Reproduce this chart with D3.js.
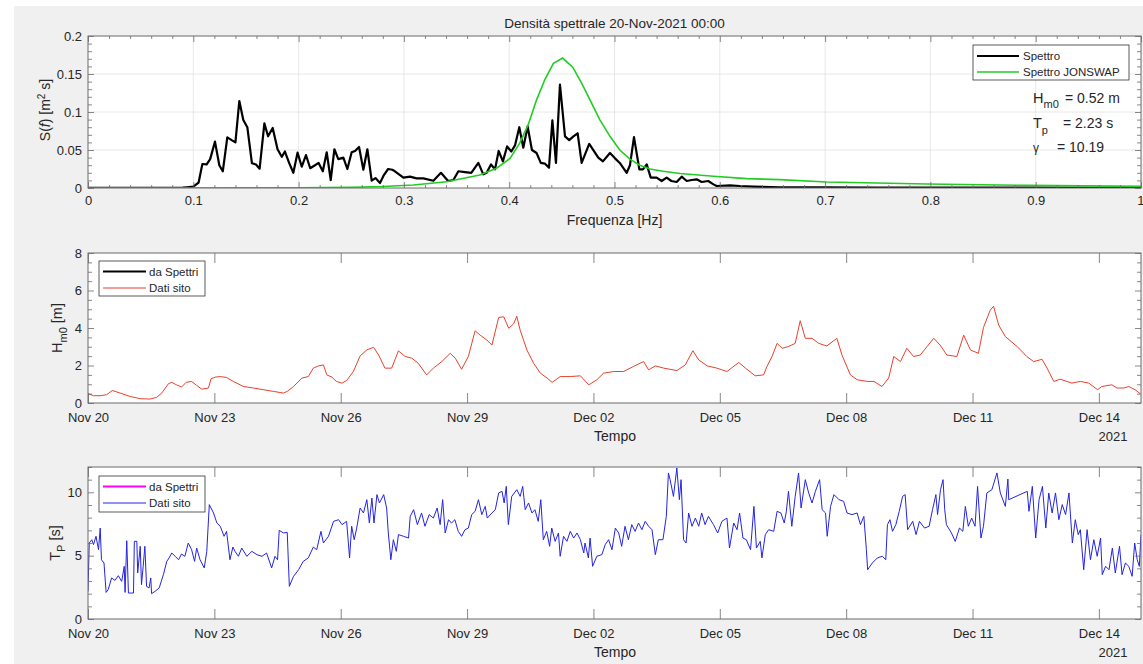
<!DOCTYPE html>
<html><head><meta charset="utf-8">
<script src="https://cdn.jsdelivr.net/npm/d3@7"></script>
<style>
body{margin:0;background:#fff;}
text{font-family:"Liberation Sans",Arial,Helvetica,sans-serif;fill:#262626;}
</style></head><body>
<svg id="c" width="1143" height="664"></svg>
<script>
// ---------- DATA ----------
const freqTicks = [0,0.1,0.2,0.3,0.4,0.5,0.6,0.7,0.8,0.9,1];
const freqTickLabels = ["0","0.1","0.2","0.3","0.4","0.5","0.6","0.7","0.8","0.9","1"];
const specTicks = [0,0.05,0.1,0.15,0.2];
const specTickLabels = ["0","0.05","0.1","0.15","0.2"];
const hmTicks = [0,2,4,6,8];
const tpTicks = [0,5,10];
const dateTickDays = [0,3,6,9,12,15,18,21,24];
const legendTop = ["Spettro","Spettro JONSWAP"];
const legendBottom = ["da Spettri","Dati sito"];
const titleText = "Densità spettrale 20-Nov-2021 00:00";
const hm0Value = "0.52 m", tpValue = "2.23 s", gammaValue = "10.19";

// measured spectrum [f (Hz), S (m^2 s)]
const spectrum = [[0,0.0003],[0.02,0.0003],[0.04,0.0003],[0.06,0.0003],[0.08,0.0003],[0.09,0.0005],[0.094,0.001],[0.1,0.0017],[0.105,0.007],[0.1086,0.0316],[0.1127,0.031],[0.116,0.038],[0.1206,0.061],[0.1247,0.030],[0.128,0.022],[0.1323,0.0667],[0.1364,0.063],[0.14,0.060],[0.1437,0.1145],[0.1475,0.0895],[0.1513,0.080],[0.1557,0.0325],[0.1595,0.031],[0.163,0.0254],[0.1675,0.085],[0.171,0.068],[0.1754,0.079],[0.18,0.051],[0.184,0.041],[0.187,0.048],[0.191,0.033],[0.195,0.020],[0.199,0.0465],[0.203,0.028],[0.207,0.0434],[0.211,0.026],[0.2156,0.030],[0.219,0.033],[0.223,0.022],[0.2267,0.047],[0.2305,0.0105],[0.234,0.051],[0.2377,0.038],[0.2425,0.040],[0.2463,0.025],[0.2504,0.047],[0.2536,0.0487],[0.2574,0.054],[0.2615,0.024],[0.2653,0.051],[0.2694,0.0097],[0.273,0.013],[0.2773,0.0066],[0.281,0.017],[0.285,0.025],[0.289,0.024],[0.2915,0.022],[0.2995,0.0136],[0.3058,0.0149],[0.312,0.0127],[0.3185,0.0127],[0.328,0.0096],[0.3352,0.020],[0.342,0.0092],[0.347,0.0105],[0.3517,0.022],[0.358,0.021],[0.364,0.020],[0.3707,0.033],[0.3754,0.018],[0.3786,0.020],[0.3827,0.031],[0.3865,0.0245],[0.390,0.0487],[0.394,0.035],[0.398,0.0547],[0.402,0.048],[0.4055,0.056],[0.4096,0.080],[0.4134,0.053],[0.4175,0.081],[0.4216,0.050],[0.426,0.046],[0.430,0.033],[0.434,0.032],[0.4378,0.0268],[0.441,0.089],[0.4444,0.033],[0.4482,0.136],[0.453,0.068],[0.457,0.063],[0.461,0.068],[0.465,0.072],[0.4688,0.033],[0.476,0.058],[0.4846,0.040],[0.489,0.035],[0.4957,0.046],[0.5005,0.039],[0.505,0.033],[0.5116,0.020],[0.5147,0.030],[0.5185,0.067],[0.5236,0.0246],[0.527,0.0246],[0.5306,0.031],[0.5344,0.0136],[0.540,0.0136],[0.5448,0.0092],[0.5495,0.0136],[0.554,0.0092],[0.559,0.0079],[0.5638,0.0149],[0.5686,0.0092],[0.5733,0.0105],[0.578,0.0114],[0.5828,0.0079],[0.589,0.0092],[0.594,0.0048],[0.597,0.0026],[0.6097,0.0035],[0.619,0.0026],[0.632,0.0018],[0.657,0.001],[0.7,0.0008],[0.75,0.0006],[0.8,0.0005],[0.85,0.0004],[0.9,0.0004],[0.95,0.0003],[1.0,0.0003]];

// JONSWAP fit [f, S]
const jonswap = [[0,0],[0.1,0],[0.15,0.0001],[0.2,0.0003],[0.25,0.001],[0.28,0.002],[0.309,0.004],[0.3406,0.0083],[0.372,0.017],[0.388,0.026],[0.4008,0.039],[0.41,0.059],[0.418,0.083],[0.426,0.116],[0.434,0.143],[0.442,0.164],[0.4508,0.171],[0.4603,0.159],[0.4688,0.138],[0.4767,0.116],[0.486,0.090],[0.4957,0.068],[0.505,0.050],[0.5147,0.038],[0.524,0.030],[0.5337,0.025],[0.5463,0.022],[0.5622,0.019],[0.594,0.0154],[0.6255,0.0123],[0.657,0.011],[0.7015,0.0079],[0.7965,0.0053],[0.891,0.0035],[1.0,0.0022]];

// Hm0 site data [days since 20-Nov-2021 00:00, m]
const hm0Site = [[0,0.50],[0.13,0.39],[0.29,0.39],[0.44,0.44],[0.58,0.67],[0.76,0.53],[1.0,0.35],[1.24,0.23],[1.47,0.21],[1.63,0.30],[1.75,0.53],[1.91,1.03],[1.99,1.10],[2.1,0.97],[2.22,0.85],[2.33,1.10],[2.46,1.15],[2.58,0.94],[2.7,0.74],[2.86,0.80],[2.92,1.29],[3.02,1.38],[3.14,1.41],[3.29,1.36],[3.45,1.15],[3.69,0.88],[3.93,0.80],[4.16,0.71],[4.4,0.62],[4.64,0.53],[4.73,0.62],[4.88,0.88],[5.08,1.33],[5.23,1.41],[5.35,1.86],[5.47,1.98],[5.59,2.03],[5.67,1.50],[5.79,1.38],[5.9,1.15],[6.03,1.06],[6.14,1.20],[6.3,1.68],[6.46,2.51],[6.62,2.83],[6.78,2.97],[6.9,2.56],[7.05,1.86],[7.21,1.86],[7.37,2.78],[7.53,2.48],[7.69,2.39],[7.84,2.12],[8.04,1.50],[8.2,1.86],[8.4,2.21],[8.6,2.65],[8.72,2.39],[8.87,1.80],[9.03,2.48],[9.19,3.85],[9.31,3.62],[9.47,3.36],[9.59,3.09],[9.75,4.56],[9.87,4.60],[9.99,3.98],[10.11,4.24],[10.18,4.63],[10.26,3.89],[10.42,2.83],[10.58,2.12],[10.74,1.59],[10.9,1.33],[11.02,1.10],[11.21,1.41],[11.45,1.41],[11.69,1.45],[11.89,0.97],[12.08,1.24],[12.24,1.59],[12.48,1.68],[12.72,1.68],[12.95,1.95],[13.19,2.21],[13.31,1.77],[13.47,1.98],[13.67,1.86],[13.98,1.73],[14.18,2.03],[14.36,2.79],[14.5,2.30],[14.7,1.98],[14.93,1.86],[15.17,1.68],[15.45,2.16],[15.61,1.86],[15.84,1.45],[16.04,1.50],[16.12,1.95],[16.24,2.48],[16.36,3.18],[16.48,2.92],[16.63,3.01],[16.79,3.18],[16.91,4.39],[17.03,3.45],[17.19,3.45],[17.35,3.18],[17.54,3.04],[17.78,3.45],[17.9,2.56],[18.1,1.50],[18.26,1.24],[18.5,1.15],[18.66,1.15],[18.85,0.88],[19.01,1.33],[19.13,2.48],[19.29,2.21],[19.44,2.92],[19.6,2.48],[19.76,2.56],[19.92,3.01],[20.08,3.45],[20.23,3.09],[20.39,2.56],[20.63,2.48],[20.79,3.62],[20.95,2.83],[21.14,2.65],[21.26,4.03],[21.42,4.95],[21.5,5.16],[21.62,4.16],[21.78,3.54],[22.06,3.01],[22.29,2.48],[22.45,2.21],[22.65,2.33],[22.77,1.86],[22.93,1.15],[23.08,1.27],[23.36,1.06],[23.56,1.15],[23.76,1.06],[23.97,0.71],[24.07,0.88],[24.31,0.97],[24.43,0.80],[24.59,0.80],[24.71,0.88],[24.86,0.71],[24.98,0.50]];

// Tp site data [days since 20-Nov-2021 00:00, s]
const tpSite = [[0,2.18],[0.03,6.0],[0.09,6.26],[0.13,5.87],[0.19,6.53],[0.25,5.47],[0.29,7.18],[0.32,4.68],[0.38,4.42],[0.43,2.1],[0.48,2.32],[0.56,3.24],[0.64,3.05],[0.72,3.42],[0.8,2.97],[0.86,4.16],[0.88,2.1],[0.92,6.18],[0.96,2.05],[1.04,2.05],[1.08,2.05],[1.1,6.13],[1.16,6.13],[1.18,3.63],[1.24,5.74],[1.27,2.71],[1.31,4.16],[1.35,5.74],[1.39,2.58],[1.45,2.45],[1.49,3.24],[1.51,2.0],[1.59,2.18],[1.69,2.45],[1.79,3.5],[1.87,4.55],[1.91,4.74],[1.99,5.21],[2.07,4.95],[2.15,4.68],[2.22,5.13],[2.3,4.95],[2.38,6.0],[2.46,5.47],[2.53,4.55],[2.58,5.6],[2.66,4.68],[2.76,4.03],[2.82,5.34],[2.88,9.03],[2.98,8.37],[3.06,7.58],[3.14,7.32],[3.23,6.53],[3.29,6.92],[3.37,4.68],[3.44,5.68],[3.49,5.34],[3.57,4.95],[3.65,5.6],[3.77,4.95],[3.89,5.34],[4.01,5.08],[4.13,4.95],[4.24,5.21],[4.36,4.03],[4.44,4.95],[4.5,4.68],[4.54,7.0],[4.64,6.79],[4.73,6.84],[4.78,2.58],[4.88,3.37],[5.0,3.89],[5.11,4.55],[5.23,4.82],[5.35,5.68],[5.43,5.47],[5.53,6.92],[5.59,6.0],[5.71,6.53],[5.83,7.71],[5.95,7.84],[6.03,7.45],[6.14,7.71],[6.21,4.82],[6.26,7.32],[6.32,6.26],[6.38,7.18],[6.46,8.76],[6.54,8.37],[6.62,9.42],[6.68,7.58],[6.74,9.55],[6.79,7.58],[6.86,9.82],[6.92,9.16],[7.02,9.82],[7.09,8.76],[7.13,6.79],[7.19,4.68],[7.25,6.26],[7.32,5.34],[7.37,6.66],[7.49,6.53],[7.61,6.39],[7.65,8.1],[7.73,8.63],[7.82,7.45],[7.92,8.37],[8.0,7.32],[8.1,8.24],[8.2,7.97],[8.29,8.76],[8.36,7.45],[8.42,9.42],[8.48,6.79],[8.56,7.84],[8.63,7.58],[8.71,7.84],[8.79,6.92],[8.87,6.53],[8.95,7.05],[9.03,7.18],[9.11,8.24],[9.19,8.5],[9.27,9.42],[9.35,8.24],[9.43,8.89],[9.48,7.97],[9.59,8.37],[9.67,8.63],[9.75,9.95],[9.83,10.08],[9.88,9.16],[9.93,10.47],[9.98,7.45],[10.06,9.68],[10.18,10.21],[10.26,9.68],[10.32,10.47],[10.38,8.63],[10.46,9.16],[10.54,8.37],[10.61,8.63],[10.69,7.71],[10.75,9.42],[10.81,6.26],[10.89,6.92],[10.96,5.74],[11.01,7.18],[11.09,6.13],[11.17,6.79],[11.21,4.95],[11.29,6.53],[11.37,6.13],[11.45,6.92],[11.53,6.39],[11.61,6.79],[11.69,6.26],[11.77,5.21],[11.8,6.0],[11.88,4.82],[11.92,6.39],[11.98,4.16],[12.08,4.95],[12.2,5.08],[12.28,5.87],[12.36,6.26],[12.44,5.47],[12.52,7.18],[12.6,6.79],[12.67,5.74],[12.75,7.32],[12.83,6.26],[12.91,7.45],[12.99,6.92],[13.07,7.58],[13.15,7.05],[13.23,7.71],[13.31,7.32],[13.39,7.05],[13.47,5.08],[13.54,6.26],[13.65,6.26],[13.73,8.1],[13.78,11.53],[13.82,11.0],[13.9,9.68],[13.98,11.92],[14.04,9.42],[14.08,11.0],[14.14,6.26],[14.2,6.0],[14.26,8.37],[14.34,7.32],[14.42,7.97],[14.5,7.32],[14.57,8.37],[14.65,7.45],[14.73,8.1],[14.85,7.45],[14.95,6.79],[15.05,7.71],[15.17,7.97],[15.23,5.6],[15.33,7.58],[15.41,7.05],[15.47,8.37],[15.55,6.39],[15.63,6.26],[15.73,5.47],[15.81,8.89],[15.87,5.6],[15.96,6.13],[16.0,4.82],[16.08,6.66],[16.16,7.05],[16.28,6.92],[16.36,8.5],[16.45,8.37],[16.53,7.58],[16.58,8.5],[16.63,10.08],[16.71,7.32],[16.79,9.68],[16.87,11.53],[16.93,8.76],[17.03,11.0],[17.11,9.95],[17.19,9.16],[17.27,10.08],[17.37,11.0],[17.43,8.63],[17.51,8.37],[17.55,6.53],[17.63,8.89],[17.71,9.82],[17.83,9.42],[17.94,9.29],[18.02,8.37],[18.14,8.24],[18.26,8.37],[18.34,7.45],[18.42,8.1],[18.48,5.47],[18.51,3.89],[18.62,4.42],[18.74,4.82],[18.86,4.95],[18.94,4.68],[18.98,7.45],[19.04,7.84],[19.1,6.92],[19.18,7.45],[19.26,8.5],[19.34,9.68],[19.4,9.82],[19.46,7.05],[19.58,7.71],[19.66,6.66],[19.74,7.71],[19.86,7.18],[19.97,7.32],[20.05,8.63],[20.13,9.82],[20.17,8.24],[20.24,10.21],[20.3,11.0],[20.34,8.63],[20.38,7.45],[20.5,6.79],[20.59,6.13],[20.69,7.18],[20.77,6.92],[20.83,8.89],[20.9,7.32],[20.98,7.97],[21.06,7.32],[21.12,10.47],[21.2,6.39],[21.26,7.32],[21.34,9.95],[21.46,10.21],[21.58,11.53],[21.66,9.95],[21.78,8.89],[21.84,11.05],[21.86,9.42],[22.3,10.08],[22.34,8.5],[22.42,10.47],[22.5,6.39],[22.58,9.42],[22.66,10.47],[22.74,7.18],[22.81,9.95],[22.89,8.37],[22.97,9.95],[23.05,7.84],[23.13,9.03],[23.21,8.24],[23.29,9.95],[23.37,6.0],[23.44,7.84],[23.51,6.66],[23.56,7.05],[23.64,3.89],[23.72,7.05],[23.8,4.68],[23.88,6.26],[23.96,4.95],[24.04,6.39],[24.08,3.5],[24.16,4.16],[24.24,3.89],[24.32,5.6],[24.39,3.63],[24.49,5.74],[24.55,3.5],[24.63,4.42],[24.71,4.16],[24.79,3.37],[24.85,6.0],[24.91,4.68],[24.96,4.16],[25.0,6.66]];

// ---------- DRAWING ----------
const svg = d3.select("#c");
svg.append("rect").attr("x",14).attr("y",6).attr("width",1129).attr("height",658).attr("fill","#f0f0f0");

const L = 88, R = 1141;
const axisCol = "#6a6a6a";
const P1 = {top:36, bottom:188}, P2 = {top:253, bottom:403}, P3 = {top:467, bottom:619};

function frame(P){
  svg.append("rect").attr("x",L).attr("y",P.top).attr("width",R-L).attr("height",P.bottom-P.top).attr("fill","#fff");
}
function styleAxis(g, showText){
  g.select(".domain").remove();
  g.selectAll(".tick line").attr("stroke",axisCol).attr("stroke-width",0.8);
  g.selectAll(".tick text").attr("fill","#262626").style("font-size","13px").style("font-family",'"Liberation Sans",Arial,sans-serif');
  if(!showText) g.selectAll(".tick text").remove();
}
function box(P){
  svg.append("rect").attr("x",L).attr("y",P.top).attr("width",R-L).attr("height",P.bottom-P.top)
    .attr("fill","none").attr("stroke",axisCol).attr("stroke-width",1);
}
function clip(id,P){
  svg.append("clipPath").attr("id",id).append("rect").attr("x",L).attr("y",P.top-1).attr("width",R-L).attr("height",P.bottom-P.top+1);
}

// ===== Panel 1: spectrum =====
frame(P1);
const x1 = d3.scaleLinear().domain([0,1]).range([L,R]);
const y1 = d3.scaleLinear().domain([0,0.2]).range([P1.bottom,P1.top]);
svg.append("g").selectAll("line").data(freqTicks.slice(1,-1)).join("line")
  .attr("x1",d=>x1(d)).attr("x2",d=>x1(d)).attr("y1",P1.top).attr("y2",P1.bottom)
  .attr("stroke","#e2e2e2").attr("stroke-width",0.8);
svg.append("g").selectAll("line").data(specTicks.slice(1,-1)).join("line")
  .attr("y1",d=>y1(d)).attr("y2",d=>y1(d)).attr("x1",L).attr("x2",R)
  .attr("stroke","#e2e2e2").attr("stroke-width",0.8);
clip("c1",P1);
const line1 = d3.line().x(d=>x1(d[0])).y(d=>y1(d[1]));
svg.append("path").datum(spectrum).attr("d",line1).attr("fill","none").attr("stroke","#000").attr("stroke-width",2.2).attr("clip-path","url(#c1)").attr("stroke-linejoin","round");
svg.append("path").datum(jonswap).attr("d",line1).attr("fill","none").attr("stroke","#22cc22").attr("stroke-width",1.6).attr("clip-path","url(#c1)");
const minorF = d3.range(0,1.0001,0.02).filter(v=>Math.abs(v*10-Math.round(v*10))>1e-6);
const minorS = d3.range(0,0.2001,0.01).filter(v=>Math.abs(v*20-Math.round(v*20))>1e-6);
const xAx1 = svg.append("g").attr("transform",`translate(0,${P1.bottom})`)
  .call(d3.axisBottom(x1).tickValues(freqTicks).tickFormat((d,i)=>freqTickLabels[i]).tickSizeInner(-6).tickSizeOuter(0).tickPadding(8));
styleAxis(xAx1,true);
xAx1.selectAll(".tick text").filter((d,i)=>i===freqTicks.length-1).attr("text-anchor","end").attr("dx","3");
styleAxis(svg.append("g").attr("transform",`translate(0,${P1.bottom})`)
  .call(d3.axisBottom(x1).tickValues(minorF).tickFormat("").tickSizeInner(-3).tickSizeOuter(0)),false);
styleAxis(svg.append("g").attr("transform",`translate(0,${P1.top})`)
  .call(d3.axisTop(x1).tickValues(freqTicks).tickSizeInner(-6).tickSizeOuter(0)),false);
styleAxis(svg.append("g").attr("transform",`translate(0,${P1.top})`)
  .call(d3.axisTop(x1).tickValues(minorF).tickSizeInner(-3).tickSizeOuter(0)),false);
styleAxis(svg.append("g").attr("transform",`translate(${L},0)`)
  .call(d3.axisLeft(y1).tickValues(specTicks).tickFormat((d,i)=>specTickLabels[i]).tickSizeInner(-6).tickSizeOuter(0).tickPadding(6)),true);
styleAxis(svg.append("g").attr("transform",`translate(${L},0)`)
  .call(d3.axisLeft(y1).tickValues(minorS).tickFormat("").tickSizeInner(-4).tickSizeOuter(0)),false);
styleAxis(svg.append("g").attr("transform",`translate(${R},0)`)
  .call(d3.axisRight(y1).tickValues(specTicks).tickSizeInner(-6).tickSizeOuter(0)),false);
styleAxis(svg.append("g").attr("transform",`translate(${R},0)`)
  .call(d3.axisRight(y1).tickValues(minorS).tickSizeInner(-4).tickSizeOuter(0)),false);
box(P1);
svg.append("text").attr("x",(L+R)/2).attr("y",28).attr("text-anchor","middle").style("font-size","13.5px").text(titleText);
svg.append("text").attr("x",(L+R)/2).attr("y",225).attr("text-anchor","middle").style("font-size","14px").text("Frequenza [Hz]");
{
  const t = svg.append("text").attr("transform","translate(50,110) rotate(-90)").attr("text-anchor","middle").style("font-size","14px");
  t.append("tspan").text("S(");
  t.append("tspan").style("font-style","italic").text("f");
  t.append("tspan").text(")  [m");
  t.append("tspan").attr("dy",-5).style("font-size","10px").text("2");
  t.append("tspan").attr("dy",5).text(" s]");
}
{
  const g = svg.append("g");
  g.append("rect").attr("x",973).attr("y",45).attr("width",156).attr("height",35).attr("fill","#fff").attr("stroke","#333").attr("stroke-width",0.8);
  const cols = ["#000","#22cc22"], ws=[2.2,1.6];
  legendTop.forEach((s,i)=>{
    const yy = 56 + i*16;
    g.append("line").attr("x1",977).attr("x2",1019).attr("y1",yy).attr("y2",yy).attr("stroke",cols[i]).attr("stroke-width",ws[i]);
    g.append("text").attr("x",1023).attr("y",yy+4).style("font-size","11.5px").text(s);
  });
}
{
  const h = svg.append("text").attr("x",1033).attr("y",103).style("font-size","14.5px");
  h.append("tspan").text("H");
  h.append("tspan").attr("dy",5).style("font-size","11px").text("m0");
  svg.append("text").attr("x",1065).attr("y",103).style("font-size","14px").text("= " + hm0Value);
  const t = svg.append("text").attr("x",1033).attr("y",128).style("font-size","14.5px");
  t.append("tspan").text("T");
  t.append("tspan").attr("dy",6).style("font-size","11px").text("p");
  svg.append("text").attr("x",1063).attr("y",128).style("font-size","14px").text("= " + tpValue);
  svg.append("text").attr("x",1033).attr("y",152).style("font-size","12px").text("γ");
  svg.append("text").attr("x",1057).attr("y",152).style("font-size","14px").text("= " + gammaValue);
}

// ===== time scale =====
const t0 = Date.UTC(2021,10,20);
const toDate = d => new Date(t0 + d*864e5);
const xT = d3.scaleUtc().domain([toDate(0),toDate(25)]).range([L,R]);
const dateTicks = dateTickDays.map(toDate);
const fmt = d3.utcFormat("%b %d");

function timePanel(P, yScale, majors, minors, data, color, clipId, ylab, sub, unit, legendCols, legendWs, legendBox, labelPos){
  frame(P);
  clip(clipId,P);
  const ln = d3.line().x(d=>xT(toDate(d[0]))).y(d=>yScale(d[1]));
  svg.append("path").datum(data).attr("d",ln).attr("fill","none").attr("stroke",color).attr("stroke-width",1).attr("clip-path",`url(#${clipId})`);
  styleAxis(svg.append("g").attr("transform",`translate(0,${P.bottom})`)
    .call(d3.axisBottom(xT).tickValues(dateTicks).tickFormat(fmt).tickSizeInner(-10).tickSizeOuter(0).tickPadding(10)),true);
  styleAxis(svg.append("g").attr("transform",`translate(0,${P.top})`)
    .call(d3.axisTop(xT).tickValues(dateTicks).tickSizeInner(-10).tickSizeOuter(0)),false);
  styleAxis(svg.append("g").attr("transform",`translate(${L},0)`)
    .call(d3.axisLeft(yScale).tickValues(majors).tickSizeInner(-6).tickSizeOuter(0).tickPadding(6)),true);
  styleAxis(svg.append("g").attr("transform",`translate(${L},0)`)
    .call(d3.axisLeft(yScale).tickValues(minors).tickFormat("").tickSizeInner(-4).tickSizeOuter(0)),false);
  styleAxis(svg.append("g").attr("transform",`translate(${R},0)`)
    .call(d3.axisRight(yScale).tickValues(majors).tickSizeInner(-6).tickSizeOuter(0)),false);
  styleAxis(svg.append("g").attr("transform",`translate(${R},0)`)
    .call(d3.axisRight(yScale).tickValues(minors).tickSizeInner(-4).tickSizeOuter(0)),false);
  box(P);
  svg.append("text").attr("x",615).attr("y",P.bottom+38).attr("text-anchor","middle").style("font-size","14px").text("Tempo");
  svg.append("text").attr("x",1113).attr("y",P.bottom+38).attr("text-anchor","middle").style("font-size","13px").text("2021");
  const t = svg.append("text").attr("transform",`translate(${labelPos[0]},${labelPos[1]}) rotate(-90)`).attr("text-anchor","middle").style("font-size","14.5px");
  t.append("tspan").text(ylab);
  t.append("tspan").attr("dy",5).style("font-size","11px").text(sub);
  t.append("tspan").attr("dy",-5).text(" " + unit);
  const g = svg.append("g");
  g.append("rect").attr("x",legendBox[0]).attr("y",legendBox[1]).attr("width",106).attr("height",legendBox[2]).attr("fill","#fff").attr("stroke","#333").attr("stroke-width",0.8);
  legendBottom.forEach((s,i)=>{
    const yy = legendBox[1] + 10.5 + i*16.5;
    g.append("line").attr("x1",103).attr("x2",146).attr("y1",yy).attr("y2",yy).attr("stroke",legendCols[i]).attr("stroke-width",legendWs[i]);
    g.append("text").attr("x",149).attr("y",yy+4).style("font-size","11.5px").text(s);
  });
}

const yH = d3.scaleLinear().domain([0,8]).range([P2.bottom,P2.top]);
timePanel(P2, yH, hmTicks, d3.range(0,8.01,0.5).filter(v=>v%2!==0), hm0Site, "#e8412c", "c2",
  "H","m0","[m]", ["#000","#e8412c"], [2.2,1], [99,261,35], [62,328]);

const yP = d3.scaleLinear().domain([0,12]).range([P3.bottom,P3.top]);
timePanel(P3, yP, tpTicks, d3.range(0,12.01,1).filter(v=>v%5!==0), tpSite, "#2424e0", "c3",
  "T","P","[s]", ["#ff00ff","#2424e0"], [2.2,1], [99,476,36], [60,543]);
</script>
</body></html>
